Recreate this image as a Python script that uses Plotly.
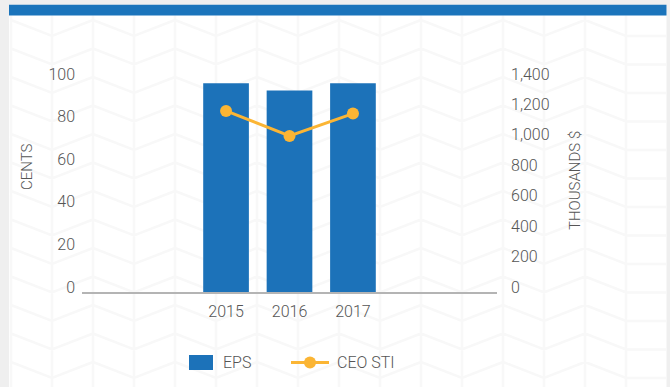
import plotly.graph_objects as go

# Data
years = ["2015", "2016", "2017"]
eps_cents = [98.0, 94.6, 98.0]
ceo_sti_thousands = [1190, 1026, 1173]
left_ticks = [0, 20, 40, 60, 80, 100]
right_ticks = [0, 200, 400, 600, 800, 1000, 1200, 1400]

BLUE = "#1c72b9"
ORANGE = "#fbb534"
TEXT = "#555555"
FONT = "Roboto"
WEIGHT = 300

W, H = 670, 387
ML, MR, MT, MB = 82, 173, 79, 95
PW, PH = W - ML - MR, H - MT - MB


def px(x):
    return (x - ML) / PW


def py(y):
    return (H - MB - y) / PH


def tfont(size):
    return dict(family=FONT, size=size, color=TEXT, weight=WEIGHT)


fig = go.Figure()
fig.add_trace(go.Bar(
    x=years, y=eps_cents, name="EPS", marker=dict(color=BLUE, line=dict(width=0)),
    width=0.72, showlegend=False, yaxis="y"))
fig.add_trace(go.Scatter(
    x=years, y=ceo_sti_thousands, name="CEO STI", mode="lines+markers",
    line=dict(color=ORANGE, width=3), marker=dict(color=ORANGE, size=12),
    showlegend=False, yaxis="y2"))

shapes = []
# page panel and top band
shapes.append(dict(type="rect", xref="paper", yref="paper", layer="below",
                   x0=px(9), x1=px(666.5), y0=py(387), y1=py(5),
                   fillcolor="#ffffff", line=dict(width=0)))

# faint chevron texture on the panel
path = []
x = 11
while x < 666:
    path.append(f"M{px(x)},{py(15.5)}L{px(x)},{py(387)}")
    x += 41
yy = 20
while yy < 400:
    xa = 11
    while xa < 666:
        pts = [(xa, yy), (xa + 41, yy + 16), (min(xa + 82, 666), yy + (16 if xa + 82 > 666 else 0))]
        path.append("M" + "L".join(f"{px(a)},{py(b)}" for a, b in pts))
        xa += 82
    yy += 28.5
shapes.append(dict(type="path", xref="paper", yref="paper", layer="below",
                   path="".join(path), line=dict(color="#f8f8f8", width=2.5)))

shapes.append(dict(type="rect", xref="paper", yref="paper", layer="below",
                   x0=px(9), x1=px(666.5), y0=py(15.6), y1=py(4.8),
                   fillcolor="#1b74bb", line=dict(width=0)))

# legend keys
shapes.append(dict(type="rect", xref="paper", yref="paper",
                   x0=px(189), x1=px(213), y0=py(370), y1=py(355),
                   fillcolor=BLUE, line=dict(width=0)))
shapes.append(dict(type="line", xref="paper", yref="paper",
                   x0=px(291), x1=px(329), y0=py(362.5), y1=py(362.5),
                   line=dict(color=ORANGE, width=3)))
shapes.append(dict(type="circle", xref="paper", yref="paper",
                   x0=px(304), x1=px(316), y0=py(368.5), y1=py(356.5),
                   fillcolor=ORANGE, line=dict(width=0)))

annotations = [
    dict(text="EPS", x=px(221), y=py(362.5), xref="paper", yref="paper",
         xanchor="left", yanchor="middle", showarrow=False, font=tfont(16)),
    dict(text="CEO STI", x=px(335), y=py(362.5), xref="paper", yref="paper",
         xanchor="left", yanchor="middle", showarrow=False, font=tfont(16)),
    dict(text="CENTS", x=px(27), y=py(166), xref="paper", yref="paper",
         textangle=-90, xanchor="center", yanchor="middle", showarrow=False,
         font=tfont(15)),
    dict(text="THOUSANDS $", x=px(575), y=py(181), xref="paper", yref="paper",
         textangle=-90, xanchor="center", yanchor="middle", showarrow=False,
         font=tfont(15)),
]

fig.update_layout(
    width=W, height=H,
    margin=dict(l=ML, r=MR, t=MT, b=MB, pad=0),
    paper_bgcolor="#efefef",
    plot_bgcolor="rgba(0,0,0,0)",
    showlegend=False,
    bargap=0.28,
    shapes=shapes,
    annotations=annotations,
    font=tfont(16),
    xaxis=dict(type="category", range=[-2.27, 4.27], showline=True,
               linecolor="#b4b4b4", linewidth=1.5, showgrid=False, zeroline=False,
               ticks="", ticklabelstandoff=4, tickfont=tfont(16)),
    yaxis=dict(range=[0, 100], tickvals=left_ticks, showgrid=False, zeroline=False,
               showline=False, ticks="", ticklabelshift=-5, ticklabelstandoff=6,
               tickfont=tfont(16)),
    yaxis2=dict(range=[0, 1400], tickvals=right_ticks, tickformat=",",
                overlaying="y", side="right", showgrid=False, zeroline=False,
                showline=False, ticks="", ticklabelshift=-5, ticklabelstandoff=13,
                tickfont=tfont(16)),
)

fig.write_html("out.html")
